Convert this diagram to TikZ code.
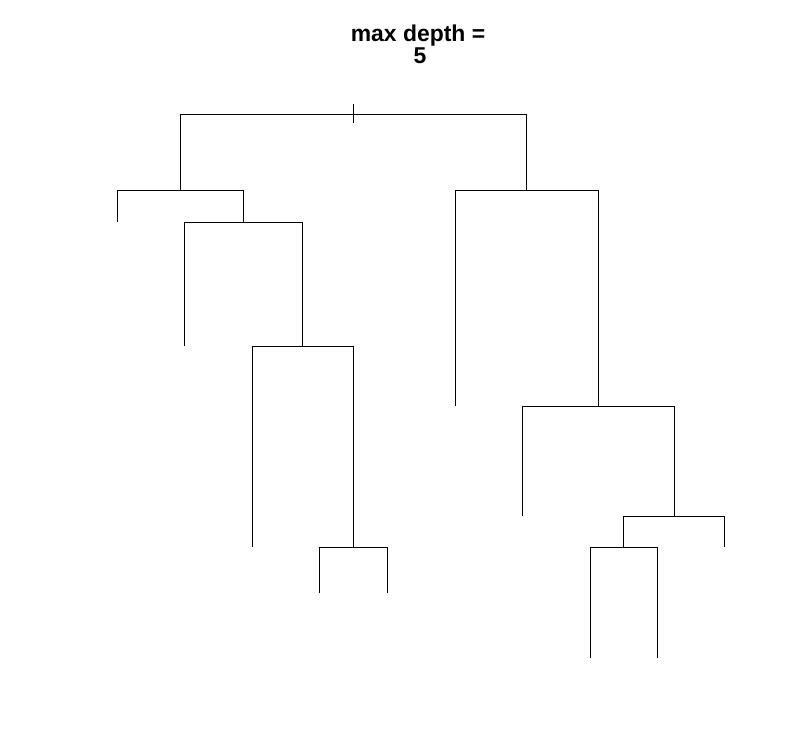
\documentclass[tikz,border=0pt]{standalone}
\usepackage{fontspec}
\setmainfont{Liberation Sans}
\begin{document}
\begin{tikzpicture}[x=1bp,y=-1bp,
  branch/.style={line width=1bp,black},
  titletext/.style={font=\fontsize{23}{23}\selectfont\bfseries,align=center,inner sep=0pt}]
\useasboundingbox (0,0) rectangle (794,751);
% title
\node[titletext,anchor=base] (t1) at (418,42) {max depth =};
\node[titletext,anchor=base] (t2) at (420,64) {5};
% node points
\coordinate (root) at (353,114);
\coordinate (L) at (180,114);
\coordinate (R) at (526,114);
\coordinate (LL) at (117,190);
\coordinate (LR) at (243,190);
\coordinate (LRL) at (184,222);
\coordinate (LRR) at (302,222);
\coordinate (LRRL) at (252,346);
\coordinate (LRRR) at (353,346);
\coordinate (LRRRL) at (319,547);
\coordinate (LRRRR) at (387,547);
\coordinate (RL) at (455,190);
\coordinate (RR) at (598,190);
\coordinate (RRL) at (522,406);
\coordinate (RRR) at (674,406);
\coordinate (RRRL) at (623,516);
\coordinate (RRRR) at (724,516);
\coordinate (RRRLL) at (590,547);
\coordinate (RRRLR) at (657,547);
% root tick
\draw[branch] (353,104) -- (353,123);
% splits
\draw[branch] (L |- LL) -- (L) -- (R) -- (R |- RL);
\draw[branch] (LL) -- (LR);
\draw[branch] (LL) -- (117,222);
\draw[branch] (LR) -- (LR |- LRL);
\draw[branch] (LRL) -- (LRR);
\draw[branch] (LRL) -- (184,346);
\draw[branch] (LRR) -- (LRR |- LRRL);
\draw[branch] (LRRL) -- (LRRR);
\draw[branch] (LRRL) -- (252,547);
\draw[branch] (LRRR) -- (LRRR |- LRRRL);
\draw[branch] (LRRRL) -- (LRRRR);
\draw[branch] (LRRRL) -- (319,593);
\draw[branch] (LRRRR) -- (387,593);
\draw[branch] (RL) -- (RR);
\draw[branch] (RL) -- (455,406);
\draw[branch] (RR) -- (RR |- RRL);
\draw[branch] (RRL) -- (RRR);
\draw[branch] (RRL) -- (522,516);
\draw[branch] (RRR) -- (RRR |- RRRL);
\draw[branch] (RRRL) -- (RRRR);
\draw[branch] (RRRR) -- (724,547);
\draw[branch] (RRRL) -- (RRRL |- RRRLL);
\draw[branch] (RRRLL) -- (RRRLR);
\draw[branch] (RRRLL) -- (590,658);
\draw[branch] (RRRLR) -- (657,658);
\end{tikzpicture}
\end{document}
